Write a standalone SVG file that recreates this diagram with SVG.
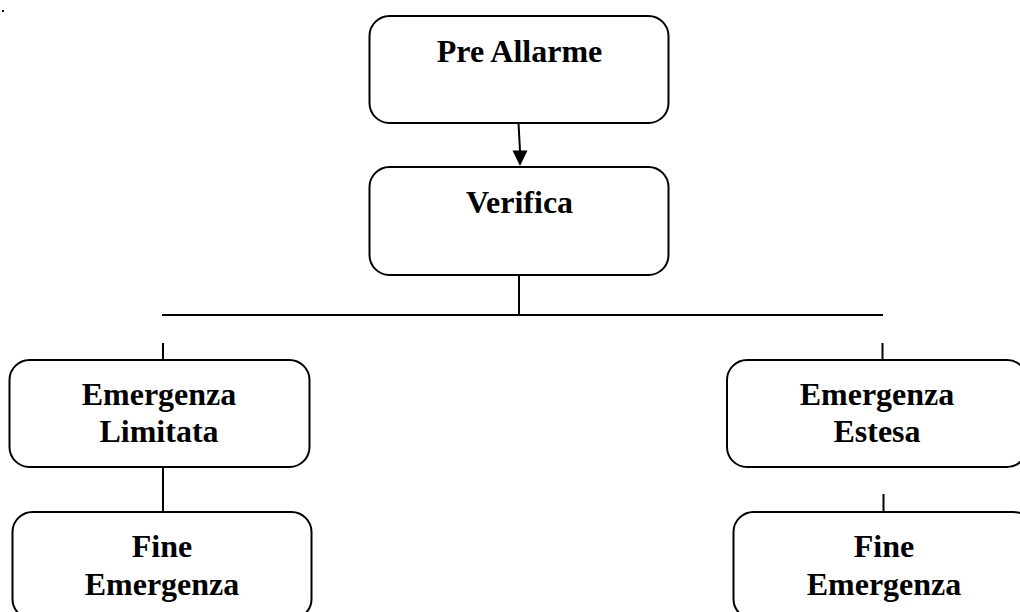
<svg xmlns="http://www.w3.org/2000/svg" width="1020" height="612" viewBox="0 0 1020 612">
<style>
.box{fill:#fff;stroke:#000;stroke-width:2}
.t{font-family:"Liberation Serif","Times New Roman",serif;font-weight:bold;font-size:32px;fill:#000;text-anchor:middle}
.c{stroke:#000;stroke-width:2;fill:none}
</style>
<rect x="2" y="10" width="2" height="2" fill="#000"/>
<g id="connectors">
<line class="c" x1="518.5" y1="123" x2="520" y2="151"/>
<path d="M512.5,150.5 L527.5,150.5 L520,166 Z" fill="#000"/>
<line class="c" x1="519" y1="275" x2="519" y2="315"/>
<line class="c" x1="162" y1="315" x2="883" y2="315"/>
<line class="c" x1="163" y1="343" x2="163" y2="360"/>
<line class="c" x1="882.5" y1="343" x2="882.5" y2="360"/>
<line class="c" x1="163" y1="467" x2="163" y2="512"/>
<line class="c" x1="883.5" y1="494" x2="883.5" y2="512"/>
</g>
<g id="pre-allarme">
<rect class="box" x="369.5" y="16" width="299" height="107" rx="20"/>
<text class="t" x="519.5" y="61.5">Pre Allarme</text>
</g>
<g id="verifica">
<rect class="box" x="369.5" y="167" width="299" height="108" rx="20"/>
<text class="t" x="519.5" y="213">Verifica</text>
</g>
<g id="emergenza-limitata">
<rect class="box" x="9.5" y="360" width="300" height="107" rx="20"/>
<text class="t" x="159" y="405">Emergenza</text>
<text class="t" x="159" y="442">Limitata</text>
</g>
<g id="emergenza-estesa">
<rect class="box" x="727" y="360" width="300" height="107" rx="20"/>
<text class="t" x="877" y="405">Emergenza</text>
<text class="t" x="877" y="442">Estesa</text>
</g>
<g id="fine-emergenza-1">
<rect class="box" x="12.5" y="512" width="299" height="107" rx="20"/>
<text class="t" x="162" y="557">Fine</text>
<text class="t" x="162" y="595">Emergenza</text>
</g>
<g id="fine-emergenza-2">
<rect class="box" x="733.5" y="512" width="300" height="107" rx="20"/>
<text class="t" x="884" y="557">Fine</text>
<text class="t" x="884" y="595">Emergenza</text>
</g>
</svg>
